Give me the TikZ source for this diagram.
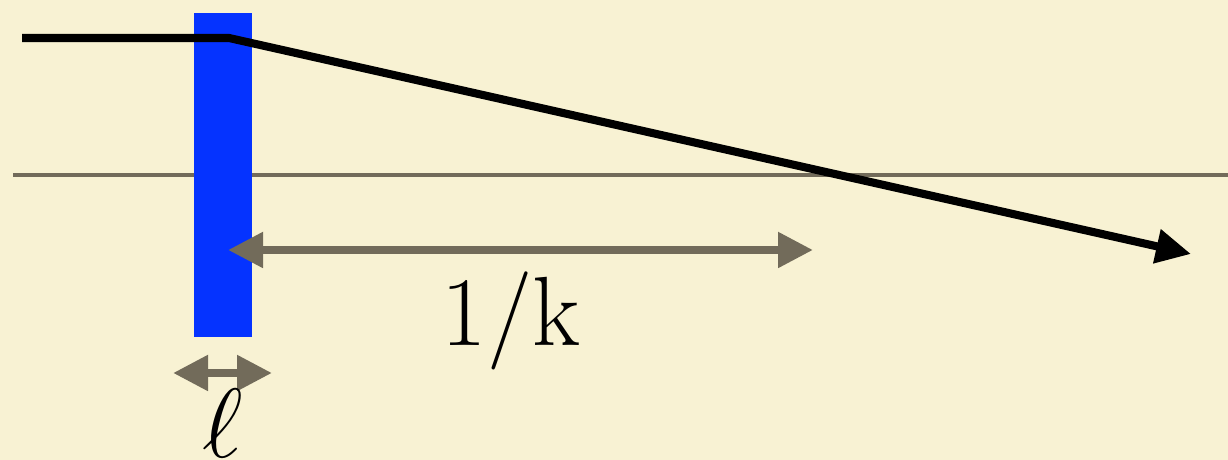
\RequirePackage{fix-cm}
\documentclass[tikz,border=0pt]{standalone}
\usepackage{tikz}
\usetikzlibrary{arrows.meta, positioning}

\definecolor{paper}{RGB}{248,242,211}
\definecolor{lensblue}{RGB}{5,51,255}
\definecolor{axisgray}{RGB}{114,107,90}

\begin{document}
\begin{tikzpicture}[
  dimarrow/.style={{Triangle[length=0.35cm, width=0.34cm]}-{Triangle[length=0.35cm, width=0.34cm]}, line width=2.3pt, axisgray},
  biglabel/.style={font=\fontsize{28}{32}\selectfont, inner sep=0pt}
]
% background
\fill[paper] (0,0) rectangle (12.28,4.60);
\useasboundingbox (0,0) rectangle (12.28,4.60);
% optical axis
\coordinate (axl) at (0.13,2.85);
\coordinate (axr) at (12.28,2.85);
\draw[line width=1.4pt, axisgray] (axl) -- (axr);
% thin lens
\node[fill=lensblue, minimum width=0.58cm, minimum height=3.24cm, inner sep=0pt] (lens) at (2.23,2.85) {};
% ray
\coordinate (rin) at (0.22,4.22);
\coordinate (rkink) at (2.29,4.22);
\coordinate (rout) at (11.91,2.06);
\draw[-{Triangle[length=0.35cm, width=0.33cm]}, line width=2.3pt, line join=miter] (rin) -- (rkink) -- (rout);
% focal length
\coordinate (fl) at (2.28,2.10);
\coordinate (fr) at (8.13,2.10);
\draw[dimarrow] (fl) -- (fr);
\node[biglabel, anchor=base] (flabel) at (5.11,1.14) {1/k};
% lens thickness
\coordinate (tl) at (1.73,0.87);
\coordinate (tr) at (2.72,0.87);
\draw[dimarrow] (tl) -- (tr);
\node[biglabel, anchor=base] (tlabel) at (2.23,0.02) {$\ell$};
\end{tikzpicture}
\end{document}
